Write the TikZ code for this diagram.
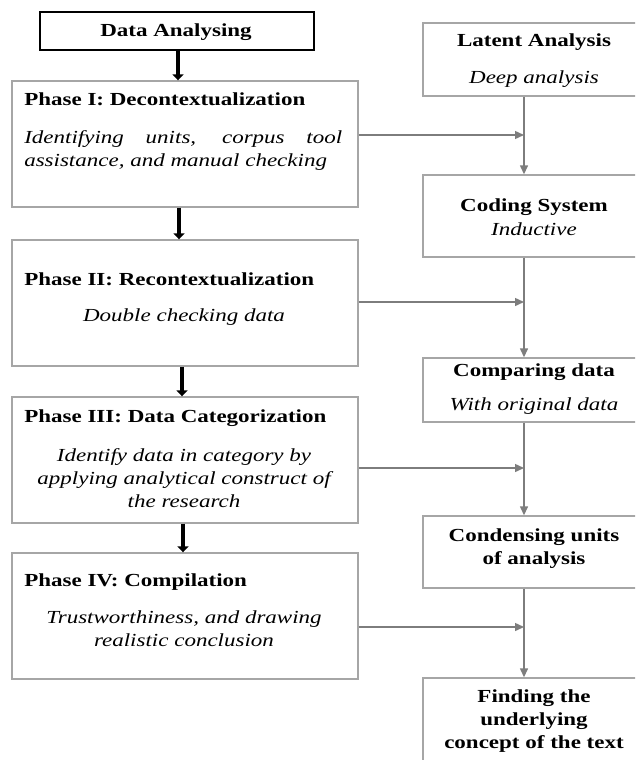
\documentclass[tikz,border=0pt]{standalone}
\usepackage{fontspec}
\setmainfont{Liberation Serif}
\usetikzlibrary{arrows.meta}
\definecolor{boxgray}{RGB}{166,166,166}
\definecolor{linegray}{RGB}{125,125,125}

\begin{document}
\begin{tikzpicture}[x=1pt,y=-1pt,
  every node/.style={font=\fontsize{18.4}{23}\selectfont,inner sep=0pt},
  phasebox/.style={draw=boxgray,line width=1.4pt,minimum width=346pt,minimum height=126pt},
  sidebox/.style={draw=boxgray,line width=1.4pt,minimum width=222pt},
  ttl/.style={xscale=1.25,font=\fontsize{18.4}{23}\selectfont\bfseries},
  note/.style={xscale=1.25,font=\fontsize{18.4}{23}\selectfont\itshape},
  blackarrow/.style={line width=4pt,-{Triangle[width=11pt,length=6pt]}},
  grayarrow/.style={linegray,line width=1.4pt,-{Triangle[width=8pt,length=9pt]}}]
\useasboundingbox (0,0) rectangle (635,760);
\clip (0,0) rectangle (635,760);

\node[draw,line width=1.4pt,minimum width=274pt,minimum height=38pt] (da) at (177,31) {};
\node[ttl,anchor=base] (dat) at (176,37) {Data Analysing};

\node[phasebox] (p1) at (185,144) {};
\node[ttl,anchor=base west] (p1t) at (24,105) {Phase I: Decontextualization};
\node[note,anchor=base west,text width=254.4pt,align=justify] (p1n) at (24,143)
  {Identifying units, corpus tool\linebreak assistance, and manual checking};

\node[phasebox] (p2) at (185,303) {};
\node[ttl,anchor=base west] (p2t) at (24,285) {Phase II: Recontextualization};
\node[note,anchor=base] (p2n) at (184,321) {Double checking data};

\node[phasebox] (p3) at (185,460) {};
\node[ttl,anchor=base west] (p3t) at (24,422) {Phase III: Data Categorization};
\node[note,anchor=base,align=center] (p3n) at (184,507)
  {Identify data in category by\\applying analytical construct of\\the research};

\node[phasebox] (p4) at (185,616) {};
\node[ttl,anchor=base west] (p4t) at (24,586) {Phase IV: Compilation};
\node[note,anchor=base,align=center] (p4n) at (184,646)
  {Trustworthiness, and drawing\\realistic conclusion};

\node[sidebox,minimum height=73pt] (la) at (534,59.5) {};
\node[ttl,anchor=base] (lat) at (534,47) {Latent Analysis};
\node[note,anchor=base] (lan) at (534,84) {Deep analysis};

\node[sidebox,minimum height=82pt] (cs) at (534,216) {};
\node[ttl,anchor=base] (cst) at (534,211) {Coding System};
\node[note,anchor=base] (csn) at (534,235) {Inductive};

\node[sidebox,minimum height=64pt] (cd) at (534,390) {};
\node[ttl,anchor=base] (cdt) at (534,376) {Comparing data};
\node[note,anchor=base] (cdn) at (534,410) {With original data};

\node[sidebox,minimum height=72pt] (cu) at (534,552) {};
\node[ttl,anchor=base,align=center] (cut) at (534,564) {Condensing units\\of analysis};

\node[sidebox,minimum height=122pt] (fc) at (534,739) {};
\node[ttl,anchor=base,align=center] (fct) at (534,748) {Finding the\\underlying\\concept of the text};

\draw[blackarrow] ([xshift=1pt]da.south) -- ([xshift=1pt]da.south |- p1.north);
\draw[blackarrow] ([xshift=-6pt]p1.south) -- ([xshift=-6pt]p2.north);
\draw[blackarrow] ([xshift=-3pt]p2.south) -- ([xshift=-3pt]p3.north);
\draw[blackarrow] ([xshift=-2pt]p3.south) -- ([xshift=-2pt]p4.north);

\coordinate (m1) at (524,135);
\coordinate (m2) at (524,302);
\coordinate (m3) at (524,468);
\coordinate (m4) at (524,627);
\draw[grayarrow] (p1.east |- m1) -- (m1);
\draw[grayarrow] (p2.east |- m2) -- (m2);
\draw[grayarrow] (p3.east |- m3) -- (m3);
\draw[grayarrow] (p4.east |- m4) -- (m4);
\draw[grayarrow] (la.south -| m1) -- (cs.north -| m1);
\draw[grayarrow] (cs.south -| m1) -- (cd.north -| m1);
\draw[grayarrow] (cd.south -| m1) -- (cu.north -| m1);
\draw[grayarrow] (cu.south -| m1) -- (fc.north -| m1);
\end{tikzpicture}
\end{document}
